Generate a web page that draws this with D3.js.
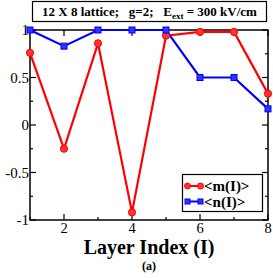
<!DOCTYPE html>
<html lang="en">
<head>
<meta charset="UTF-8">
<title>Layer index chart</title>
<style>
    body { margin: 0; background: white; }
</style>
</head>
<body>
<script src="https://d3js.org/d3.v7.min.js"></script>
<script>
    var layers = [1, 2, 3, 4, 5, 6, 7, 8];
    var mValues = [0.76, -0.25, 0.86, -0.92, 0.94, 0.98, 0.98, 0.33];
    var nValues = [1.0, 0.83, 1.0, 1.0, 1.0, 0.5, 0.5, 0.17];
    var xTicks = [2, 4, 6, 8];
    var yTicks = [1, 0.5, 0, -0.5, -1];
    var seriesNames = ["<m(I)>", "<n(I)>"];

    var width = 273, height = 278;
    // note: "top" is reserved on window, so use plot* names
    var plotLeft = 30, plotRight = 268, plotTop = 30, plotBottom = 220;
    var serif = "'Liberation Serif', 'Times New Roman', 'DejaVu Serif', serif";

    var svg = d3.select("body").append("svg")
        .attr("width", width)
        .attr("height", height)
        .attr("font-family", serif);

    var x = d3.scaleLinear().domain([1, 8]).range([plotLeft, plotRight]);
    var y = d3.scaleLinear().domain([-1, 1]).range([plotBottom, plotTop]);

    // frame
    svg.append("rect")
        .attr("x", plotLeft).attr("y", plotTop)
        .attr("width", plotRight - plotLeft).attr("height", plotBottom - plotTop)
        .attr("fill", "none").attr("stroke", "black").attr("stroke-width", 1.5);

    // ticks inward on all four sides
    var xMinor = d3.range(1, 8.01, 1);
    var yMinor = d3.range(-1, 1.01, 0.25);
    function tickLen(v, major) { return major.indexOf(v) >= 0 ? 6 : 3; }
    xMinor.forEach(function (v) {
        var L = tickLen(v, xTicks);
        svg.append("line").attr("x1", x(v)).attr("x2", x(v)).attr("y1", plotBottom).attr("y2", plotBottom - L)
            .attr("stroke", "black").attr("stroke-width", 1.2);
        svg.append("line").attr("x1", x(v)).attr("x2", x(v)).attr("y1", plotTop).attr("y2", plotTop + L)
            .attr("stroke", "black").attr("stroke-width", 1.2);
    });
    yMinor.forEach(function (v) {
        var L = tickLen(v, yTicks);
        svg.append("line").attr("x1", plotLeft).attr("x2", plotLeft + L).attr("y1", y(v)).attr("y2", y(v))
            .attr("stroke", "black").attr("stroke-width", 1.2);
        svg.append("line").attr("x1", plotRight).attr("x2", plotRight - L).attr("y1", y(v)).attr("y2", y(v))
            .attr("stroke", "black").attr("stroke-width", 1.2);
    });

    // tick labels
    svg.selectAll(".xl").data(xTicks).enter().append("text")
        .attr("font-family", serif)
        .attr("x", function (d) { return x(d); })
        .attr("y", plotBottom + 13)
        .attr("text-anchor", "middle")
        .attr("font-size", 14.5)
        .text(function (d) { return d; });
    svg.selectAll(".yl").data(yTicks).enter().append("text")
        .attr("font-family", serif)
        .attr("x", plotLeft - 1)
        .attr("y", function (d) { return y(d) + 5; })
        .attr("text-anchor", "end")
        .attr("font-size", 15)
        .text(function (d) { return d; });

    // lines
    var line = d3.line()
        .x(function (d, i) { return x(layers[i]); })
        .y(function (d) { return y(d); });

    svg.append("path").datum(mValues)
        .attr("d", line).attr("fill", "none")
        .attr("stroke", "#ff0000").attr("stroke-width", 2.2);
    svg.append("path").datum(nValues)
        .attr("d", line).attr("fill", "none")
        .attr("stroke", "#0000ff").attr("stroke-width", 2.2);

    svg.selectAll(".mpt").data(mValues).enter().append("circle")
        .attr("cx", function (d, i) { return x(layers[i]); })
        .attr("cy", function (d) { return y(d); })
        .attr("r", 3.6)
        .attr("fill", "#ff3333").attr("stroke", "#ff0000");
    svg.selectAll(".npt").data(nValues).enter().append("rect")
        .attr("x", function (d, i) { return x(layers[i]) - 3; })
        .attr("y", function (d) { return y(d) - 3; })
        .attr("width", 6).attr("height", 6)
        .attr("fill", "#3333ff").attr("stroke", "#0000ff");

    // title box
    svg.append("rect")
        .attr("x", 32.5).attr("y", 1.5).attr("width", 234).attr("height", 20)
        .attr("fill", "white").attr("stroke", "black").attr("stroke-width", 1.2);
    var title = svg.append("text")
        .attr("font-family", serif)
        .attr("x", 149.5).attr("y", 15.5)
        .attr("text-anchor", "middle")
        .attr("font-size", 13).attr("font-weight", "bold")
        .attr("xml:space", "preserve");
    title.append("tspan").text("12 X 8 lattice;   g=2;   E");
    title.append("tspan").attr("font-size", 9).attr("dy", 3).text("ext");
    title.append("tspan").attr("dy", -3).text(" = 300 kV/cm");

    // legend
    svg.append("rect")
        .attr("x", 182.5).attr("y", 174.5).attr("width", 80).attr("height", 37)
        .attr("fill", "white").attr("stroke", "black").attr("stroke-width", 1.2);
    var legColors = ["#ff0000", "#0000ff"];
    seriesNames.forEach(function (name, i) {
        var ly = 186 + i * 15.5;
        svg.append("line").attr("x1", 187).attr("x2", 201).attr("y1", ly).attr("y2", ly)
            .attr("stroke", legColors[i]).attr("stroke-width", 2);
        if (i === 0) {
            [187.5, 200.5].forEach(function (cx) {
                svg.append("circle").attr("cx", cx).attr("cy", ly).attr("r", 3)
                    .attr("fill", "#ff3333").attr("stroke", "#ff0000");
            });
        } else {
            [187.5, 200.5].forEach(function (cx) {
                svg.append("rect").attr("x", cx - 2.5).attr("y", ly - 2.5).attr("width", 5).attr("height", 5)
                    .attr("fill", "#3333ff").attr("stroke", "#0000ff");
            });
        }
        svg.append("text")
            .attr("font-family", serif)
            .attr("x", 204).attr("y", ly + 5)
            .attr("font-size", 15).attr("font-weight", "bold")
            .text(name);
    });

    // axis title and caption
    svg.append("text")
        .attr("font-family", serif)
        .attr("x", 149).attr("y", 254)
        .attr("text-anchor", "middle")
        .attr("font-size", 20).attr("font-weight", "bold")
        .text("Layer Index (I)");
    svg.append("text")
        .attr("font-family", serif)
        .attr("x", 149).attr("y", 270)
        .attr("text-anchor", "middle")
        .attr("font-size", 12).attr("font-weight", "bold")
        .text("(a)");
</script>
</body>
</html>
